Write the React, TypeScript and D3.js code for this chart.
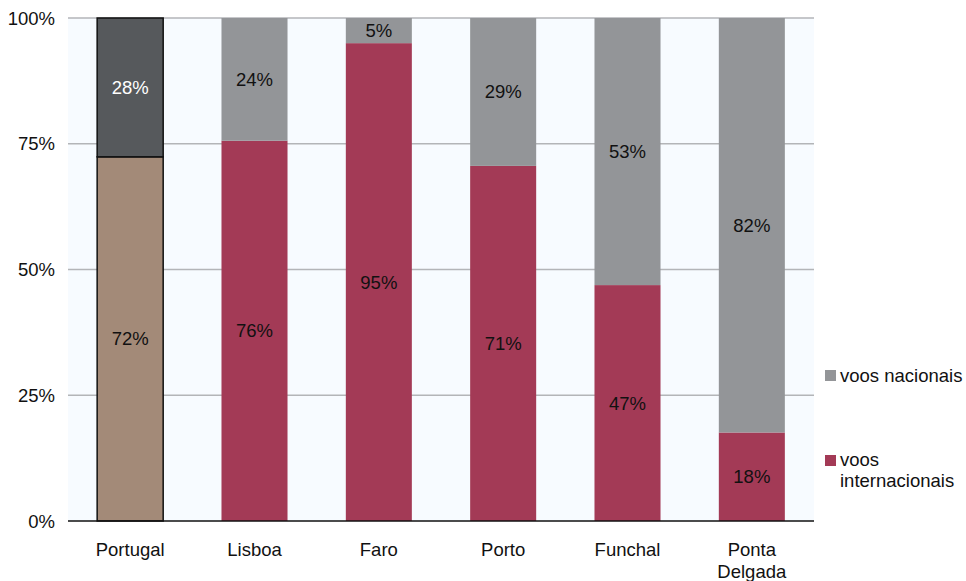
import React from "react";
import * as d3 from "d3";

const categories = ["Portugal", "Lisboa", "Faro", "Porto", "Funchal", "Ponta Delgada"];
const internacionais = [72.4, 75.6, 95.0, 70.6, 46.9, 17.6];
const nacionais = [27.6, 24.4, 5.0, 29.4, 53.1, 82.4];
const yTicks = [0, 25, 50, 75, 100];
const legendLabels = ["voos nacionais", "voos internacionais"];

const W = 966, H = 581;
const M = { left: 68, right: 814, top: 18, bottom: 521 };
const FONT = "'Liberation Sans', Arial, sans-serif";
const C_NAT = "#939598";
const C_INT = "#a33a56";
const C_PT_NAT = "#56595c";
const C_PT_INT = "#a38a78";

export default function App() {
  const x = d3.scaleBand<string>().domain(categories).range([M.left, M.right]).paddingInner(0.469).paddingOuter(0.2345);
  const y = d3.scaleLinear().domain([0, 100]).range([M.bottom, M.top]);
  const bw = x.bandwidth();
  const fs = 18.5;
  return (
    <div style={{ position: "fixed", top: 0, left: 0, width: W, height: H, overflow: "hidden" }}>
      <svg width={W} height={H} style={{ display: "block", background: "#fff" }} fontFamily={FONT}>
        <rect x={M.left} y={M.top} width={M.right - M.left} height={M.bottom - M.top} fill="#f7fbff" />
        {yTicks.map((t) => (
          <g key={t}>
            {t > 0 && <line x1={M.left} x2={M.right} y1={y(t)} y2={y(t)} stroke="#b3b5b8" strokeWidth={1.5} />}
            <text x={55} y={y(t) + 6.5} textAnchor="end" fontSize={fs} fill="#111">{t}%</text>
          </g>
        ))}
        {categories.map((c, i) => {
          const x0 = x(c)!;
          const isPt = i === 0;
          const yi = y(internacionais[i]);
          const yn = y(internacionais[i] + nacionais[i]);
          return (
            <g key={c}>
              <rect x={x0} y={yi} width={bw} height={M.bottom - yi} fill={isPt ? C_PT_INT : C_INT}
                stroke={isPt ? "#111" : "none"} strokeWidth={1.5} />
              <rect x={x0} y={yn} width={bw} height={yi - yn} fill={isPt ? C_PT_NAT : C_NAT}
                stroke={isPt ? "#111" : "none"} strokeWidth={1.5} />
              <text x={x0 + bw / 2} y={(yi + M.bottom) / 2 + 6.5} textAnchor="middle" fontSize={fs} fill="#111">
                {Math.round(internacionais[i])}%
              </text>
              <text x={x0 + bw / 2} y={(yn + yi) / 2 + 6.5} textAnchor="middle" fontSize={fs} fill={isPt ? "#fff" : "#111"}>
                {Math.round(nacionais[i])}%
              </text>
              {c.split(" ").map((w, k) => (
                <text key={k} x={x0 + bw / 2} y={556 + k * 22} textAnchor="middle" fontSize={fs} fill="#111">{w}</text>
              ))}
            </g>
          );
        })}
        <line x1={M.left} x2={M.right} y1={M.bottom} y2={M.bottom} stroke="#111" strokeWidth={1.5} />
        <rect x={825} y={370} width={11} height={11} fill={C_NAT} />
        <text x={840} y={382} fontSize={fs} fill="#111">{legendLabels[0]}</text>
        <rect x={825} y={455} width={11} height={11} fill={C_INT} />
        <text x={840} y={466} fontSize={fs} fill="#111">
          <tspan x={840}>{legendLabels[1].split(" ")[0]}</tspan>
          <tspan x={840} dy={21}>{legendLabels[1].split(" ")[1]}</tspan>
        </text>
      </svg>
    </div>
  );
}
